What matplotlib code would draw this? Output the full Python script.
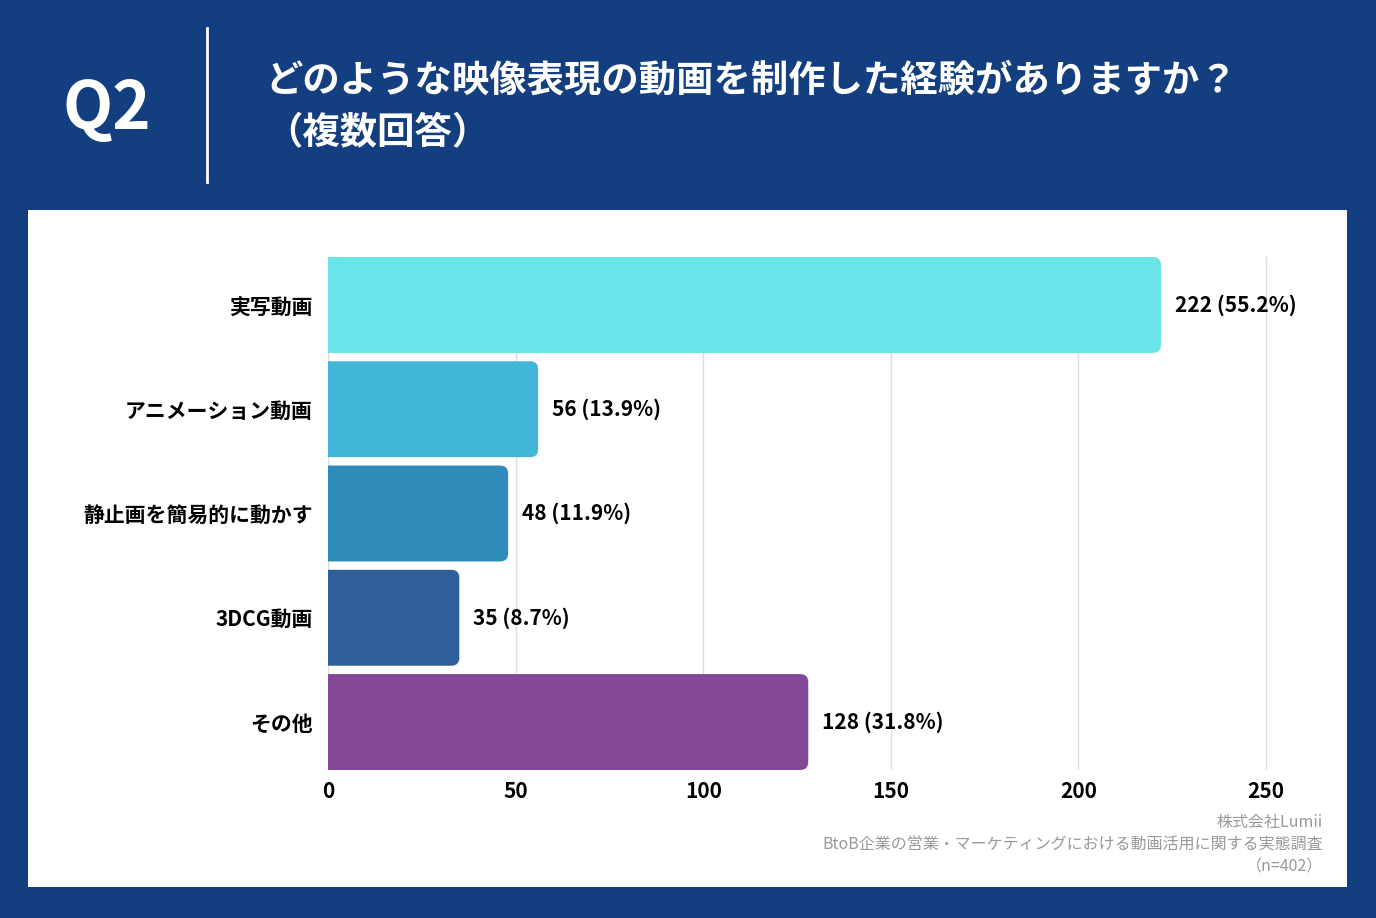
import matplotlib.pyplot as plt
from matplotlib.patches import FancyBboxPatch, Rectangle

plt.rcParams['font.family'] = ['Noto Sans CJK JP', 'DejaVu Sans']

# ---------- данные ----------
categories = ['実写動画', 'アニメーション動画', '静止画を簡易的に動かす', '3DCG動画', 'その他']
counts = [222, 56, 48, 35, 128]
percents = [55.2, 13.9, 11.9, 8.7, 31.8]
bar_colors = ['#6AE4E8', '#42B6D6', '#2E8BBA', '#2F5F98', '#844897']
xticks = [0, 50, 100, 150, 200, 250]

title = 'どのような映像表現の動画を制作した経験がありますか？'
subtitle = '（複数回答）'
source_lines = ['株式会社Lumii',
                'BtoB企業の営業・マーケティングにおける動画活用に関する実態調査',
                '（n=402）']

navy = '#133E80'
W, H = 1376, 918

fig = plt.figure(figsize=(W / 100, H / 100), dpi=100)
fig.patch.set_facecolor(navy)

# белая панель
fig.patches.append(Rectangle((28 / W, 1 - 887 / H), (1347 - 28) / W, (887 - 210) / H,
                             transform=fig.transFigure, facecolor='white',
                             edgecolor='none', zorder=-10))

# шапка
fig.text(107 / W, 1 - 110 / H, 'Q2', color='white', fontsize=47, fontweight='bold',
         ha='center', va='center')
fig.add_artist(plt.Line2D([207 / W, 207 / W], [1 - 28 / H, 1 - 182 / H],
                          transform=fig.transFigure, color='white', lw=2))
fig.text(265 / W, 1 - 80 / H, title, color='white', fontsize=26.9, fontweight='bold',
         ha='left', va='center')
fig.text(265 / W, 1 - 132 / H, subtitle, color='white', fontsize=26.9, fontweight='bold',
         ha='left', va='center')

# ---------- график ----------
px_per_unit = (1266 - 328) / 250
xmax = 262
ax_left, ax_top, ax_bottom = 328, 257, 770
ax_right = ax_left + xmax * px_per_unit
ax = fig.add_axes([ax_left / W, 1 - ax_bottom / H, (ax_right - ax_left) / W,
                   (ax_bottom - ax_top) / H])
ax.set_facecolor('none')

n = len(categories)
ypos = list(range(n))
bar_h = 0.92
rx = 8 / px_per_unit
ry = 8 / ((ax_bottom - ax_top) / (n - 1 + bar_h))

for y, v, c in zip(ypos, counts, bar_colors):
    patch = FancyBboxPatch((-5, y - bar_h / 2), v + 5, bar_h,
                           boxstyle=f'round,pad=0,rounding_size={rx}',
                           mutation_aspect=ry / rx,
                           facecolor=c, edgecolor='none', zorder=3)
    ax.add_patch(patch)

for y, v, p in zip(ypos, counts, percents):
    ax.annotate(f'{v} ({p}%)', xy=(v, y), xytext=(10, 0), textcoords='offset points',
                ha='left', va='center', fontsize=15, fontweight='bold', color='black')

ax.set_xlim(0, xmax)
ax.set_ylim(n - 1 + bar_h / 2, -bar_h / 2)
ax.set_yticks(ypos)
ax.set_yticklabels(categories, fontsize=15, fontweight='bold')
ax.set_xticks(xticks)
ax.set_xticklabels([str(t) for t in xticks], fontsize=15, fontweight='bold')
ax.tick_params(axis='x', length=0, pad=8)
ax.tick_params(axis='y', length=0, pad=11)
ax.grid(axis='x', color='#DDDDDD', lw=1, zorder=0)
ax.set_axisbelow(True)
for s in ax.spines.values():
    s.set_visible(False)

# источник
for i, line in enumerate(source_lines):
    fig.text(1323 / W, 1 - (823 + 22 * i) / H, line, color='#999999', fontsize=11.5,
             ha='right', va='center')

plt.savefig('out.png', dpi=100, facecolor=fig.get_facecolor())
